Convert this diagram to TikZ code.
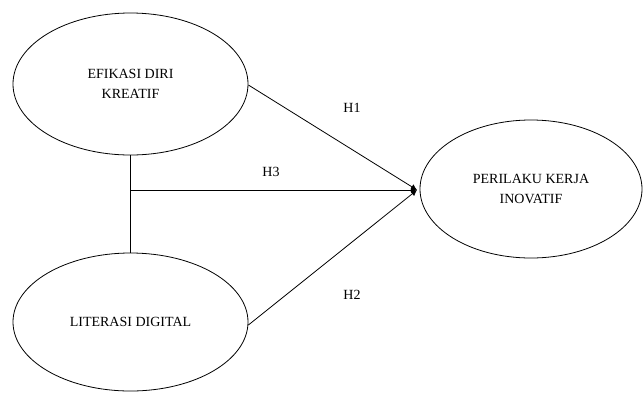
\documentclass[tikz,border=0pt]{standalone}
\usepackage{fontspec}
\setmainfont{Liberation Serif}
\usetikzlibrary{shapes.geometric,arrows.meta}
\begin{document}
\begin{tikzpicture}[x=1pt,y=-1pt,
  latent/.style={draw,ellipse,line width=0.8pt,minimum width=235pt,minimum height=142pt,align=center,font=\fontsize{14}{20}\selectfont,inner sep=0pt},
  conn/.style={line width=0.8pt},
  lab/.style={font=\fontsize{14}{16}\selectfont}]
\useasboundingbox (0,0) rectangle (643,392);
\fill[white] (0,0) rectangle (643,392);
\node[latent] (efi) at (130.5,84) {EFIKASI DIRI\\KREATIF};
\node[latent,minimum height=138pt] (lit) at (130.5,322) {LITERASI DIGITAL};
\node[latent,minimum width=222pt,minimum height=138pt] (pkj) at (531,189) {PERILAKU KERJA\\INOVATIF};
\coordinate (tip) at (417,190);
\coordinate (mid) at (130.5,190);
\draw[conn] (efi.south) -- (lit.north);
\draw[conn,-{Latex[length=6pt,width=6pt]}] (mid) -- (tip);
\draw[conn,-{Latex[length=6pt,width=6pt]}] (efi.east) ++(0,1) -- (tip);
\draw[conn,-{Latex[length=6pt,width=6pt]}] (lit.east) ++(0,3) -- (tip);
\node[lab] (h1) at (352,108) {H1};
\node[lab] (h3) at (271,172) {H3};
\node[lab] (h2) at (352,295) {H2};
\end{tikzpicture}
\end{document}
